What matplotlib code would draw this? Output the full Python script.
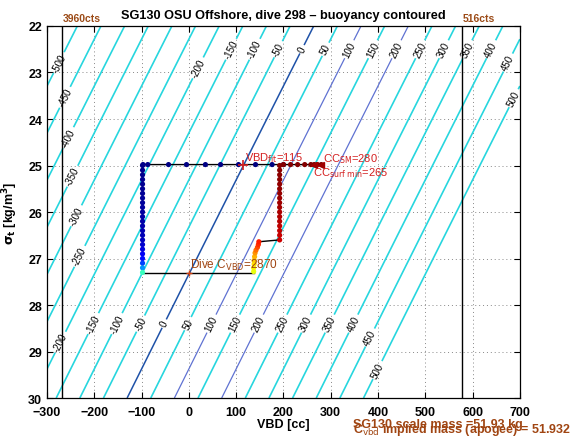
import numpy as np
import matplotlib
matplotlib.use("Agg")
import matplotlib.pyplot as plt

plt.rcParams['font.family'] = ['Liberation Sans', 'DejaVu Sans']

# ---------------- data ----------------
vbd_lim = (-300, 700)
sigma_lim = (22, 30)
x_ticks = [-300, -200, -100, 0, 100, 200, 300, 400, 500, 600, 700]
y_ticks = [22, 23, 24, 25, 26, 27, 28, 29, 30]

mass_g = 51932.0          # implied mass (g)
hull_volume_cc = 50550.0  # displaced volume at VBD=0 (cc)
levels = list(range(-500, 501, 50))

vbd_min_cts_line = -268   # 3960 cts
vbd_max_cts_line = 577    # 516 cts

# trajectory (VBD cc, sigma_t, normalized time)
surf_start_vbd = [200, 176, 141, 105, 67, 35, -5, -43, -87, -97]
surf_start_sig = [24.98] * 10
surf_start_t = [0.0, 0.001, 0.002, 0.003, 0.004, 0.005, 0.006, 0.007, 0.008, 0.009]

desc_vbd = [-98] * 24
desc_sig = [25.0, 25.1, 25.2, 25.3, 25.4, 25.5, 25.6, 25.7, 25.8, 25.9, 26.0, 26.1,
            26.2, 26.3, 26.4, 26.5, 26.6, 26.7, 26.8, 26.9, 27.0, 27.1, 27.2, 27.3]
desc_t = [0.01, 0.012, 0.014, 0.016, 0.018, 0.02, 0.022, 0.024, 0.026, 0.028, 0.03, 0.033,
          0.036, 0.04, 0.045, 0.05, 0.058, 0.07, 0.085, 0.105, 0.135, 0.19, 0.27, 0.42]

climb1_vbd = [137, 137, 138, 138, 139, 140, 142, 145, 147, 148]
climb1_sig = [27.28, 27.2, 27.12, 27.04, 26.96, 26.88, 26.82, 26.76, 26.7, 26.64]
climb1_t = [0.63, 0.65, 0.67, 0.69, 0.72, 0.75, 0.79, 0.83, 0.86, 0.88]

climb2_vbd = [192] * 17
climb2_sig = [26.6, 26.5, 26.4, 26.3, 26.2, 26.1, 26.0, 25.9, 25.8, 25.7, 25.6, 25.5,
              25.4, 25.3, 25.2, 25.1, 25.0]
climb2_t = [0.93, 0.935, 0.94, 0.945, 0.95, 0.955, 0.96, 0.965, 0.97, 0.975, 0.98,
            0.982, 0.984, 0.986, 0.988, 0.99, 0.992]

surf_end_vbd = [200, 215, 230, 245, 258, 265, 272, 280]
surf_end_sig = [24.98] * 8
surf_end_t = [0.993, 0.994, 0.995, 0.996, 0.997, 0.998, 0.999, 1.0]

vbd_fit = 115
cc_sm = 280
cc_surf_min = 265
dive_c_vbd = 2870
dive_c_vbd_marker = 0
surface_sigma = 24.98
apogee_sigma = 27.31

title = "SG130 OSU Offshore, dive 298 \u2013 buoyancy contoured"
scale_mass_text = "SG130 scale mass =51.93 kg"
implied_mass_text = r"C$_{\rm vbd}$ implied mass (apogee) = 51.932"

# ---------------- figure ----------------
fig = plt.figure(figsize=(5.70, 4.39), dpi=100)
ax = fig.add_axes([0.0825, 0.0911, 0.8295, 0.8474])
ax.set_xlim(*vbd_lim)
ax.set_ylim(sigma_lim[1], sigma_lim[0])

def vbd_neutral(sig):
    rho = 1.0 + np.asarray(sig) / 1000.0
    return mass_g / rho - hull_volume_cc

vg = np.linspace(vbd_lim[0], vbd_lim[1], 401)
sg = np.linspace(sigma_lim[0], sigma_lim[1], 201)
VV, SS = np.meshgrid(vg, sg)
B = VV - vbd_neutral(SS)

cyan = '#27d6de'
cols = []
lws = []
for L in levels:
    if L == 0:
        cols.append('#1f52a8'); lws.append(1.1)
    elif L in (100, 200):
        cols.append('#5f72d2'); lws.append(0.9)
    else:
        cols.append(cyan); lws.append(1.2)
cs = ax.contour(VV, SS, B, levels=levels, colors=cols, linewidths=lws)

# label placement
def pos_at_sigma(L, s):
    return (L + float(vbd_neutral(s)), s)

def pos_at_vbd(L, v):
    rho = mass_g / (v - L + hull_volume_cc)
    return (v, (rho - 1.0) * 1000.0)

manual = []
for L, v in zip([-500, -450, -400, -350, -300, -250], [-275, -262, -255, -246, -238, -231]):
    manual.append(pos_at_vbd(L, v))
for L in range(-200, 401, 50):
    manual.append(pos_at_sigma(L, 22.5 if L != -200 else 22.9))
manual.append(pos_at_vbd(450, 675))
manual.append(pos_at_vbd(500, 687))
for L in range(-200, 401, 50):
    manual.append(pos_at_sigma(L, 28.4 if L != -200 else 28.8))
manual.append(pos_at_sigma(450, 28.7))
manual.append(pos_at_sigma(500, 29.4))
ax.clabel(cs, levels=levels, manual=manual, inline=True, fontsize=7,
          colors='black', fmt='%d', inline_spacing=2)

# vertical count limits
ax.axvline(vbd_min_cts_line, color='black', lw=1.0)
ax.axvline(vbd_max_cts_line, color='black', lw=1.0)
ax.text(vbd_min_cts_line + 2, 21.93, '3960cts', color='#9b4a16', fontsize=7.5,
        fontweight='bold', ha='left', va='bottom', clip_on=False)
ax.text(vbd_max_cts_line + 2, 21.93, '516cts', color='#9b4a16', fontsize=7.5,
        fontweight='bold', ha='left', va='bottom', clip_on=False)

# trajectory black connecting line
all_vbd = surf_start_vbd + desc_vbd + climb1_vbd + climb2_vbd + surf_end_vbd
all_sig = surf_start_sig + desc_sig + climb1_sig + climb2_sig + surf_end_sig
all_t = surf_start_t + desc_t + climb1_t + climb2_t + surf_end_t
ax.plot(surf_start_vbd + desc_vbd, surf_start_sig + desc_sig, color='black', lw=1.0, zorder=4)
ax.plot([desc_vbd[-1], climb1_vbd[0]], [apogee_sigma, apogee_sigma], color='black', lw=1.0, zorder=4)
ax.plot([climb1_vbd[0]] + climb1_vbd, [apogee_sigma] + climb1_sig, color='black', lw=1.0, zorder=4)
ax.plot([climb1_vbd[-1], climb2_vbd[0]], [climb1_sig[-1], climb2_sig[0]], color='black', lw=1.0, zorder=4)
ax.plot(climb2_vbd + surf_end_vbd, climb2_sig + surf_end_sig, color='black', lw=1.0, zorder=4)
ax.scatter(all_vbd, all_sig, c=all_t, cmap='jet', vmin=0, vmax=1, s=14,
           edgecolors='none', zorder=5)

# annotations
red = '#d42020'
brown = '#a04512'
ax.plot([vbd_fit], [surface_sigma], marker='+', color=red, ms=7, mew=1.2, zorder=6)
ax.text(vbd_fit + 3, surface_sigma - 0.02, r'VBD$_{\rm fit}$=%d' % vbd_fit, color=red,
        fontsize=8, ha='left', va='bottom', zorder=7)
ax.plot([cc_sm], [surface_sigma], marker='<', color='#a00000', ms=4, zorder=6)
ax.plot([cc_surf_min], [surface_sigma], marker='<', color='#a00000', ms=4, zorder=6)
ax.text(cc_sm + 4, surface_sigma - 0.13, r'CC$_{\rm SM}$=%d' % cc_sm, color=red,
        fontsize=8, ha='left', va='center', zorder=7)
ax.text(cc_surf_min - 3, surface_sigma + 0.17, r'CC$_{\rm surf\ min}$=%d' % cc_surf_min,
        color=red, fontsize=8, ha='left', va='center', zorder=7)
ax.plot([dive_c_vbd_marker], [apogee_sigma], marker='+', color='#d04010', ms=5, mew=1.0, zorder=6)
ax.text(dive_c_vbd_marker + 3, apogee_sigma - 0.02, r'Dive C$_{\rm VBD}$=%d' % dive_c_vbd,
        color=brown, fontsize=8.5, ha='left', va='bottom', zorder=7)

# axes styling
ax.set_xticks(x_ticks)
ax.set_yticks(y_ticks)
ax.set_xticklabels([('\u2212%d' % -v if v < 0 else str(v)) for v in x_ticks])
ax.tick_params(direction='in', top=True, right=True, length=4, width=0.8, labelsize=9)
ax.tick_params(axis='x', pad=5.5)
for lab in ax.get_xticklabels() + ax.get_yticklabels():
    lab.set_fontweight('bold')
ax.grid(True, linestyle=(0, (1, 3)), color='#888888', lw=0.7)
ax.set_axisbelow(True)
for sp in ax.spines.values():
    sp.set_linewidth(0.9)
ax.set_xlabel('VBD [cc]', fontsize=9, fontweight='bold', labelpad=0)
ax.set_ylabel(r'$\mathbf{\sigma_t}$ [kg/m$^\mathbf{3}$]', fontsize=9, fontweight='bold', labelpad=6)
ax.set_title(title, fontsize=9.2, fontweight='bold', pad=6)

fig.text(353 / 570, 1 - 425 / 439, scale_mass_text, color=brown, fontsize=9,
         fontweight='bold', ha='left', va='center')
fig.text(353 / 570, 1 - 430 / 439, implied_mass_text, color=brown, fontsize=9,
         fontweight='bold', ha='left', va='center')

fig.savefig('out.png', dpi=100)
